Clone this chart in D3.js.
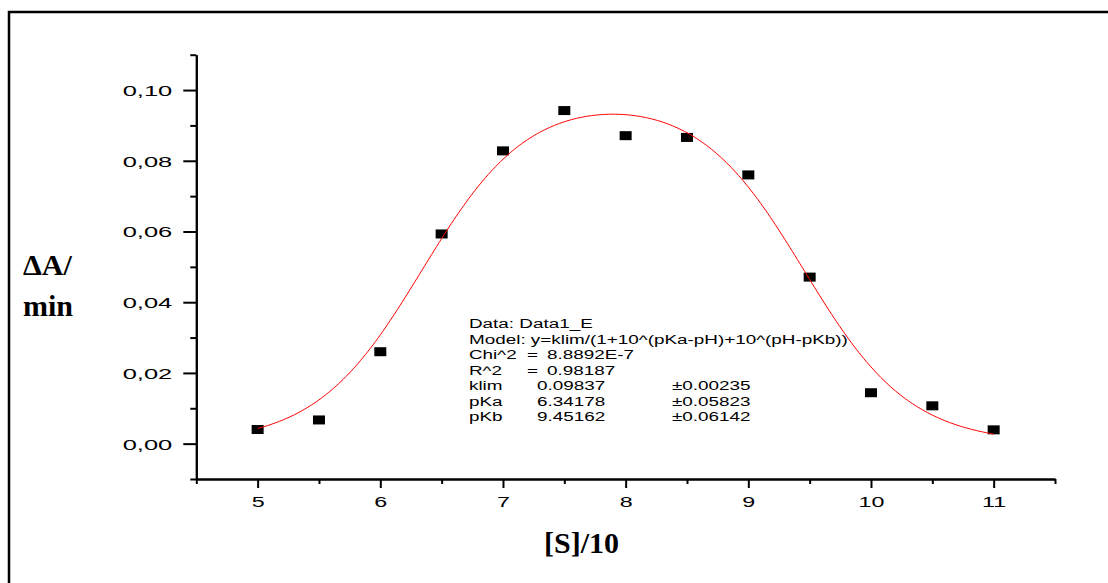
<!DOCTYPE html>
<html>
<head>
<meta charset="utf-8">
<script src="https://cdn.jsdelivr.net/npm/d3@7"></script>
<style>
  body { margin: 0; background: #fff; }
  text { font-family: "Liberation Sans", Arial, sans-serif; fill: #000; }
  .title { font-family: "Liberation Serif", "Times New Roman", serif; font-weight: bold; }
</style>
</head>
<body>
<div id="chart"></div>
<script>
// measured points
const sValues = [5, 5.5, 6, 6.5, 7, 7.5, 8, 8.5, 9, 9.5, 10, 10.5, 11];
const rateValues = [0.0040, 0.0067, 0.0260, 0.0593, 0.0828, 0.0942, 0.0871, 0.0866, 0.0760, 0.0471, 0.0144, 0.0107, 0.0039];

// fitted parameters printed on the chart
const klim = 0.09837, pKa = 6.34178, pKb = 9.45162;

const xTicks = [5, 6, 7, 8, 9, 10, 11];
const xMinor = [4.5, 5.5, 6.5, 7.5, 8.5, 9.5, 10.5, 11.5];
const yTicks = [0, 0.02, 0.04, 0.06, 0.08, 0.10];
const yMinor = [-0.01, 0.01, 0.03, 0.05, 0.07, 0.09, 0.11];

const infoLines = ["Data: Data1_E", "Model: y=klim/(1+10^(pKa-pH)+10^(pH-pKb))"];
const statRows = [["Chi^2", "8.8892E-7"], ["R^2", "0.98187"]];
const paramRows = [["klim", "0.09837", "±0.00235"], ["pKa", "6.34178", "±0.05823"], ["pKb", "9.45162", "±0.06142"]];

const W = 1108, H = 583;
const svg = d3.select("#chart").append("svg")
  .attr("width", W).attr("height", H);

// outer frame
svg.append("rect")
  .attr("x", 9).attr("y", 12).attr("width", 1120).attr("height", 600)
  .attr("fill", "none").attr("stroke", "#000").attr("stroke-width", 2.5);

const x = d3.scaleLinear().domain([4.5, 11.5]).range([196.3, 1055]);
const y = d3.scaleLinear().domain([-0.01, 0.11]).range([479, 54.7]);

// x axis
const gx = svg.append("g").attr("transform", `translate(0,${y(-0.01)})`);
gx.call(d3.axisBottom(x).tickValues(xTicks).tickSize(9).tickSizeOuter(0).tickFormat(d3.format("d")));
gx.append("g").call(d3.axisBottom(x).tickValues(xMinor).tickSize(5).tickSizeOuter(0).tickFormat(""));
gx.selectAll("text")
  .attr("y", 0).attr("dy", null)
  .attr("transform", "translate(0,28) scale(1.5,1)")
  .style("font-size", "15.5px");

// y axis
const gy = svg.append("g").attr("transform", `translate(${x(4.5)},0)`);
gy.call(d3.axisLeft(y).tickValues(yTicks).tickSize(13).tickSizeOuter(0)
  .tickFormat(d => d.toFixed(2).replace(".", ",")));
gy.append("g").call(d3.axisLeft(y).tickValues(yMinor).tickSize(6).tickSizeOuter(0).tickFormat(""));
gy.selectAll("text")
  .attr("x", 0).attr("dy", "0.36em")
  .attr("transform", "translate(-24,0) scale(1.7,1)")
  .style("font-size", "15px");

svg.selectAll(".domain, .tick line").attr("stroke", "#000").attr("stroke-width", 2);

// markers
svg.append("g").selectAll("rect")
  .data(sValues.map((s, i) => [s, rateValues[i]]))
  .join("rect")
  .attr("x", d => x(d[0]) - 6).attr("y", d => y(d[1]) - 4.5)
  .attr("width", 12).attr("height", 9)
  .attr("fill", "#000");

// fit curve
const model = ph => klim / (1 + Math.pow(10, pKa - ph) + Math.pow(10, ph - pKb));
const curvePts = d3.range(5, 11.0001, 0.02).map(ph => [ph, model(ph)]);
svg.append("path")
  .datum(curvePts)
  .attr("fill", "none").attr("stroke", "#ff0000").attr("stroke-width", 1)
  .attr("d", d3.line().x(d => x(d[0])).y(d => y(d[1])));

// fit report
const info = svg.append("g").style("font-size", "12.5px");
const lineH = 15.45, top0 = 328.3;
function put(txt, px, row) {
  return info.append("text").attr("transform", `translate(${px},${top0 + row * lineH})`).text(txt);
}
const modelText = put(infoLines[1], 469, 1);
put(infoLines[0], 469, 0);
statRows.forEach((r, i) => { put(r[0], 469, 2 + i); put("=", 527, 2 + i); put(r[1], 547, 2 + i); });
paramRows.forEach((r, i) => { put(r[0], 469, 4 + i); put(r[1], 537, 4 + i); put(r[2], 672, 4 + i); });
const k = 379 / modelText.node().getComputedTextLength();
info.selectAll("text").attr("transform", function() {
  return d3.select(this).attr("transform") + ` scale(${k},1)`;
});

// axis titles
svg.append("text").attr("class", "title").attr("x", 23).attr("y", 275)
  .style("font-size", "30px").text("ΔA/");
svg.append("text").attr("class", "title").attr("x", 23).attr("y", 316)
  .style("font-size", "30px").text("min");
svg.append("text").attr("class", "title").attr("x", 581.5).attr("y", 553)
  .attr("text-anchor", "middle").style("font-size", "30px").text("[S]/10");
</script>
</body>
</html>
